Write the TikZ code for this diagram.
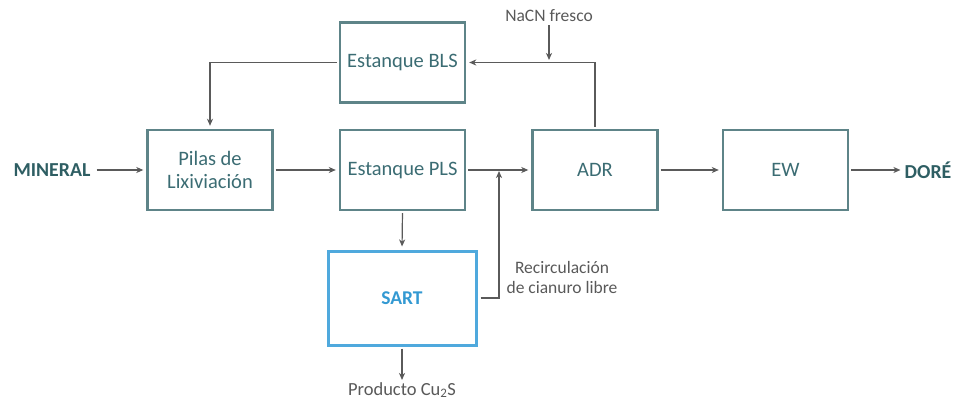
\documentclass[tikz,border=0pt]{standalone}
\usepackage{fontspec}
\setmainfont{Carlito}
\usetikzlibrary{arrows.meta,calc}
\definecolor{boxline}{HTML}{5E8488}
\definecolor{boxtext}{HTML}{3B6C73}
\definecolor{boldtext}{HTML}{2E5E63}
\definecolor{conn}{HTML}{5A5A5A}
\definecolor{lbl}{HTML}{595959}
\definecolor{sartblue}{HTML}{4FA9DD}
\definecolor{sarttext}{HTML}{3399D2}
\tikzset{
  procbox/.style={draw=boxline, line width=2.4pt, minimum width=125pt, minimum height=80pt,
    text=boxtext, font=\fontsize{20.5}{23.5}\selectfont, align=center, inner sep=0pt},
  sartbox/.style={draw=sartblue, line width=3pt, minimum width=148pt, minimum height=94pt,
    text=sarttext, font=\bfseries\fontsize{19.5}{23}\selectfont, inner sep=0pt},
  endlabel/.style={text=boldtext, font=\bfseries\fontsize{19.8}{23}\selectfont, inner sep=3pt},
  smalllabel/.style={text=lbl, font=\fontsize{17.5}{20}\selectfont, align=center, inner sep=2pt},
  arr/.style={draw=conn, line width=1.2pt, -{Stealth[length=7pt,width=6pt,inset=2pt]}, shorten >=3pt},
  plainline/.style={draw=conn, line width=1.2pt}
}
\begin{document}
\begin{tikzpicture}[x=1pt,y=-1pt]
\useasboundingbox (0,0) rectangle (969,404);
% boxes
\node[procbox] (bls) at (402.5,62.5) {Estanque BLS};
\node[procbox] (pilas) at (210,170) {Pilas de\\Lixiviación};
\node[procbox] (pls) at (402.5,170) {Estanque PLS};
\node[procbox] (adr) at (595,170) {ADR};
\node[procbox] (ew) at (785.5,170) {EW};
\node[sartbox] (sart) at (402,298) {SART};
% labels
\node[endlabel] (mineral) at (52,170) {MINERAL};
\node[endlabel] (dore) at (928,170) {DORÉ};
\node[smalllabel] (nacn) at (549,16) {NaCN fresco};
\node[smalllabel] (recirc) at (562,277) {Recirculación\\de cianuro libre};
\node[smalllabel, font=\fontsize{18.5}{21}\selectfont, anchor=north] (cu2s) at (402,380) {Producto Cu\textsubscript{2}S};
\coordinate (nacnin) at (549,63);
\coordinate (junc) at (499,170);
% connectors
\draw[arr, shorten <=3pt] (mineral.east) -- (pilas.west);
\draw[arr, shorten <=2pt] (pilas.east) -- (pls.west);
\draw[arr, shorten <=2pt] (pls.east) -- (adr.west);
\draw[arr, shorten <=2pt] (adr.east) -- (ew.west);
\draw[arr, shorten <=2pt, shorten >=1pt] (ew.east) -- (dore.west);
\draw[arr, shorten <=2pt] (bls.west) -| (pilas.north);
\draw[arr, shorten <=2pt] (adr.north) |- (bls.east);
\draw[arr, shorten <=1pt] (nacn.south) -- (nacnin);
\draw[arr, shorten <=2pt] (pls.south) -- (sart.north);
\draw[arr, shorten <=2pt, shorten >=0pt] (sart.south) -- (cu2s.north);
\draw[arr, shorten <=3pt, shorten >=1pt] (sart.east) -| (junc);
\end{tikzpicture}
\end{document}
